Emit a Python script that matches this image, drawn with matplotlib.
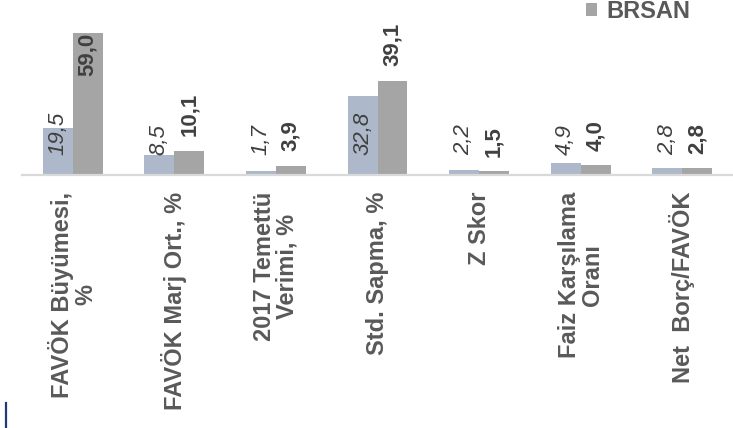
import matplotlib.pyplot as plt
from matplotlib.lines import Line2D
import numpy as np

plt.rcParams['font.family'] = ['Liberation Sans', 'DejaVu Sans']

categories = [
    "FAVÖK Büyümesi,\n%",
    "FAVÖK Marj Ort., %",
    "2017 Temettü\nVerimi, %",
    "Std. Sapma, %",
    "Z Skor",
    "Faiz Karşılama\nOranı",
    "Net  Borç/FAVÖK",
]
sector = [19.5, 8.5, 1.7, 32.8, 2.2, 4.9, 2.8]
brsan = [59.0, 10.1, 3.9, 39.1, 1.5, 4.0, 2.8]

light = "#adb9ca"
dark = "#a5a5a5"
txt = "#595959"
val_txt = "#404040"

W, H = 733, 428
fig = plt.figure(figsize=(W / 100, H / 100), dpi=100)
ax = fig.add_axes([22 / W, 1 - 175 / H, 711 / W, 175 / H])

x = np.arange(len(categories))
w = 0.295
b1 = ax.bar(x - w / 2, sector, w, color=light)
b2 = ax.bar(x + w / 2, brsan, w, color=dark, label="BRSAN")

ax.set_xlim(-0.5, len(categories) - 0.5)
ax.set_ylim(0, 72.6)

for xi, v in zip(x, sector):
    ax.text(xi - w / 2, 8.4, f"{v:.1f}".replace(".", ","), rotation=90,
            ha="center", va="bottom", fontsize=16, style="italic",
            color=val_txt, clip_on=False)

for xi, v in zip(x, brsan):
    s = f"{v:.1f}".replace(".", ",")
    if v > 50:
        ax.text(xi + w / 2, v, s, rotation=90, ha="center", va="top",
                fontsize=16, fontweight="bold", color=val_txt)
    else:
        ax.annotate(s, (xi + w / 2, v), xytext=(0, 10.5), textcoords="offset points",
                    rotation=90, ha="center", va="bottom", fontsize=16,
                    fontweight="bold", color=val_txt, annotation_clip=False)

for sp in ["top", "right", "left"]:
    ax.spines[sp].set_visible(False)
ax.spines["bottom"].set_color("#d9d9d9")
ax.spines["bottom"].set_linewidth(1.6)
ax.set_yticks([])
ax.set_xticks(x)
ax.set_xticklabels(categories, rotation=90, fontsize=17, fontweight="bold",
                   color=txt, multialignment="center", linespacing=1.0)
ax.tick_params(axis="x", length=0, pad=12)

ax.legend(handles=[b2], loc="center left", bbox_to_anchor=(586 / W, 1 - 11 / H),
          bbox_transform=fig.transFigure, frameon=False, borderpad=0,
          borderaxespad=0, handlelength=0.48, handleheight=0.48,
          handletextpad=0.4, prop={"size": 17, "weight": "bold"},
          labelcolor=txt)

fig.add_artist(Line2D([6 / W, 6 / W], [0, 25 / H], color="#1f3a7a", lw=1.6,
                      transform=fig.transFigure))

fig.savefig("out.png", dpi=100)
